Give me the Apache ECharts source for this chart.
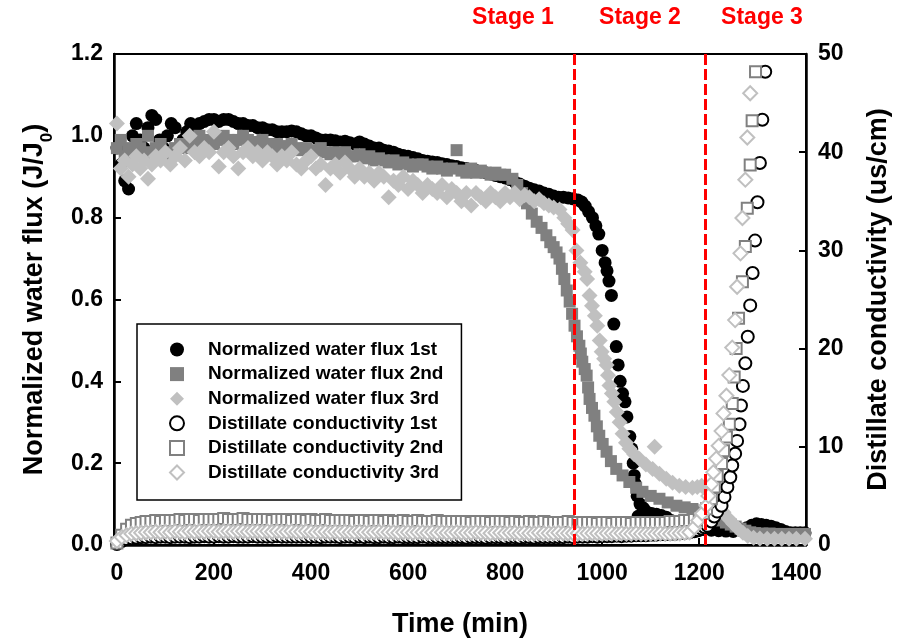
<!DOCTYPE html>
<html>
<head>
<meta charset="utf-8">
<script src="https://cdn.jsdelivr.net/npm/echarts@6/dist/echarts.min.js"></script>
<style>
html,body{margin:0;padding:0;background:#fff;}
#chart{width:901px;height:643px;}
</style>
</head>
<body>
<div id="chart"></div>
<script>
// ---------------- DATA ----------------
const seriesNames = [
  'Normalized water flux 1st','Normalized water flux 2nd','Normalized water flux 3rd',
  'Distillate conductivity 1st','Distillate conductivity 2nd','Distillate conductivity 3rd'
];
const xTicks = [0,200,400,600,800,1000,1200,1400];
const stageLines = [943, 1213];
const stageLabels = ['Stage 1','Stage 2','Stage 3'];

// Normalized water flux [time (min), J/J0]
const flux1 = [[0,0.97],[8,0.93],[16,0.89],[24,0.87],[32,1.0],[40,1.03],[48,0.99],[56,0.97],[64,1.02],[72,1.05],[80,1.04],[88,0.99],[96,0.97],[104,1.0],[112,1.03],[120,1.02],[128,0.97],[136,0.99],[144,1.01],[152,1.03],[160,1.02],[170,1.03],[180,1.035],[190,1.04],[200,1.04],[210,1.035],[220,1.04],[230,1.04],[240,1.035],[250,1.03],[260,1.03],[270,1.025],[280,1.025],[290,1.02],[300,1.02],[310,1.015],[320,1.015],[330,1.01],[340,1.01],[350,1.01],[360,1.012],[370,1.01],[380,1.005],[390,1.0],[400,1.0],[410,0.995],[420,0.99],[430,0.99],[440,0.99],[450,0.988],[460,0.985],[470,0.987],[480,0.983],[490,0.98],[500,0.985],[510,0.98],[520,0.975],[530,0.97],[540,0.97],[550,0.965],[560,0.963],[570,0.96],[580,0.955],[590,0.952],[600,0.95],[610,0.947],[620,0.944],[630,0.94],[640,0.938],[650,0.936],[660,0.935],[670,0.932],[680,0.93],[690,0.927],[700,0.925],[710,0.922],[720,0.92],[730,0.917],[740,0.915],[750,0.912],[760,0.91],[770,0.907],[780,0.903],[790,0.9],[800,0.897],[810,0.893],[820,0.887],[830,0.882],[840,0.877],[850,0.872],[860,0.868],[870,0.865],[880,0.86],[890,0.857],[900,0.853],[910,0.85],[920,0.85],[930,0.848],[940,0.846],[950,0.843],[958,0.838],[965,0.828],[972,0.815],[980,0.8],[987,0.78],[993,0.76],[1000,0.72],[1006,0.69],[1010,0.67],[1014,0.645],[1019,0.61],[1024,0.54],[1029,0.485],[1033,0.44],[1037,0.40],[1042,0.37],[1047,0.35],[1051,0.313],[1057,0.265],[1061,0.235],[1064,0.2],[1066,0.17],[1068,0.15],[1072,0.12],[1074,0.07],[1078,0.1],[1085,0.09],[1093,0.08],[1102,0.077],[1112,0.075],[1122,0.072],[1132,0.068],[1142,0.06],[1152,0.052],[1165,0.046],[1180,0.042],[1195,0.04],[1210,0.038],[1225,0.036],[1240,0.035],[1255,0.034],[1270,0.033],[1285,0.036],[1298,0.042],[1308,0.048],[1318,0.052],[1328,0.05],[1338,0.048],[1348,0.046],[1358,0.042],[1368,0.038],[1378,0.033],[1388,0.03],[1398,0.03],[1408,0.03],[1418,0.03]];

const flux2 = [[0,0.97],[8,0.99],[16,0.95],[24,0.97],[32,0.96],[40,0.98],[48,0.97],[56,0.95],[64,1.0],[72,0.96],[80,0.97],[90,0.98],[100,0.96],[110,0.95],[120,0.97],[130,0.98],[140,0.97],[150,0.99],[160,0.98],[170,1.0],[180,0.98],[190,0.99],[200,0.98],[210,0.99],[220,1.0],[230,0.99],[240,0.98],[250,0.99],[260,1.0],[270,0.99],[280,0.98],[290,0.985],[300,0.99],[310,0.98],[320,0.975],[330,0.98],[340,0.97],[350,0.975],[360,0.98],[370,0.97],[380,0.965],[390,0.97],[400,0.96],[410,0.965],[420,0.97],[430,0.96],[440,0.955],[450,0.96],[460,0.955],[470,0.96],[480,0.95],[490,0.95],[500,0.955],[510,0.945],[520,0.95],[530,0.94],[540,0.945],[550,0.94],[560,0.935],[570,0.94],[580,0.93],[590,0.935],[600,0.93],[610,0.925],[620,0.93],[630,0.93],[640,0.925],[650,0.92],[660,0.925],[670,0.92],[680,0.915],[690,0.92],[700,0.965],[710,0.915],[720,0.91],[730,0.92],[740,0.91],[750,0.915],[760,0.91],[770,0.905],[780,0.91],[790,0.905],[800,0.905],[815,0.895],[825,0.88],[835,0.86],[845,0.835],[855,0.81],[865,0.79],[875,0.775],[885,0.757],[893,0.74],[900,0.728],[906,0.715],[912,0.7],[917,0.675],[922,0.65],[927,0.622],[933,0.595],[938,0.565],[943,0.536],[948,0.51],[953,0.487],[956,0.468],[959,0.448],[964,0.43],[968,0.414],[971,0.385],[974,0.357],[979,0.335],[984,0.316],[989,0.29],[994,0.267],[1001,0.247],[1009,0.228],[1018,0.205],[1029,0.186],[1042,0.17],[1056,0.154],[1070,0.14],[1083,0.13],[1100,0.12],[1118,0.113],[1135,0.104],[1153,0.096],[1170,0.092],[1186,0.088],[1198,0.084],[1208,0.08],[1217,0.075],[1226,0.07],[1235,0.065],[1245,0.06],[1255,0.055],[1265,0.05],[1275,0.045],[1285,0.04],[1295,0.035],[1305,0.031],[1315,0.029],[1330,0.028],[1345,0.028],[1360,0.027],[1375,0.027],[1390,0.027],[1405,0.027],[1418,0.027]];

const flux3 = [[0,1.03],[8,0.92],[16,0.94],[24,0.90],[32,0.93],[40,0.95],[48,0.92],[56,0.94],[64,0.895],[72,0.93],[80,0.95],[90,0.94],[100,0.96],[110,0.93],[120,0.95],[130,0.97],[140,0.94],[150,1.0],[160,0.96],[170,0.95],[180,0.97],[190,0.96],[200,1.01],[210,0.925],[220,0.96],[230,0.97],[240,0.95],[250,0.92],[260,0.96],[270,0.97],[280,0.95],[290,0.96],[300,0.94],[310,0.96],[320,0.95],[330,0.93],[340,0.95],[350,0.94],[360,0.96],[370,0.93],[380,0.92],[390,0.94],[400,0.95],[410,0.92],[420,0.93],[430,0.88],[440,0.92],[450,0.93],[460,0.91],[470,0.935],[480,0.92],[490,0.9],[500,0.92],[510,0.9],[520,0.91],[530,0.89],[540,0.91],[550,0.9],[560,0.85],[570,0.89],[580,0.88],[590,0.9],[600,0.87],[610,0.89],[620,0.88],[630,0.86],[640,0.88],[650,0.87],[660,0.86],[670,0.88],[680,0.85],[690,0.87],[700,0.86],[710,0.84],[720,0.86],[730,0.83],[740,0.86],[750,0.85],[760,0.84],[770,0.86],[780,0.85],[790,0.84],[800,0.86],[810,0.85],[820,0.86],[830,0.845],[840,0.855],[850,0.85],[860,0.84],[870,0.845],[880,0.835],[890,0.83],[900,0.825],[912,0.82],[922,0.8],[930,0.785],[939,0.77],[947,0.72],[955,0.69],[964,0.668],[969,0.65],[974,0.61],[979,0.585],[985,0.56],[990,0.536],[995,0.5],[999,0.472],[1004,0.455],[1009,0.44],[1012,0.415],[1015,0.39],[1020,0.37],[1025,0.35],[1030,0.325],[1036,0.30],[1042,0.272],[1049,0.25],[1056,0.235],[1066,0.222],[1077,0.21],[1090,0.197],[1104,0.186],[1108,0.24],[1118,0.174],[1132,0.162],[1145,0.152],[1159,0.145],[1172,0.142],[1186,0.14],[1196,0.142],[1205,0.145],[1213,0.138],[1222,0.125],[1231,0.11],[1240,0.095],[1250,0.08],[1260,0.065],[1270,0.052],[1280,0.04],[1290,0.03],[1300,0.022],[1312,0.018],[1325,0.016],[1340,0.015],[1355,0.015],[1370,0.015],[1385,0.015],[1400,0.015],[1418,0.015]];

// Distillate conductivity: baseline sampled every 10 min, then rising part
const condBaseTime = [0,10,20,30,40,50,60,70,80,90,100,110,120,130,140,150,160,170,180,190,200,210,220,230,240,250,260,270,280,290,300,310,320,330,340,350,360,370,380,390,400,410,420,430,440,450,460,470,480,490,500,510,520,530,540,550,560,570,580,590,600,610,620,630,640,650,660,670,680,690,700,710,720,730,740,750,760,770,780,790,800,810,820,830,840,850,860,870,880,890,900,910,920,930,940,950,960,970,980,990,1000,1010,1020,1030,1040,1050,1060,1070,1080,1090,1100,1110,1120,1130,1140,1150,1160,1170];

const cond1Base = [0.1,0.4,0.6,0.7,0.75,0.8,0.8,0.85,0.8,0.85,0.85,0.8,0.85,0.85,0.85,0.8,0.85,0.85,0.9,0.85,0.85,0.9,0.85,0.85,0.9,0.85,0.85,0.85,0.9,0.85,0.85,0.85,0.85,0.9,0.85,0.85,0.85,0.85,0.85,0.85,0.85,0.85,0.8,0.85,0.85,0.85,0.8,0.85,0.85,0.8,0.85,0.8,0.85,0.8,0.8,0.85,0.8,0.8,0.85,0.8,0.8,0.8,0.8,0.85,0.8,0.8,0.8,0.8,0.8,0.8,0.8,0.8,0.75,0.8,0.8,0.8,0.75,0.8,0.8,0.8,0.75,0.8,0.8,0.75,0.8,0.8,0.75,0.8,0.8,0.8,0.8,0.8,0.8,0.85,0.8,0.85,0.85,0.85,0.9,0.85,0.9,0.9,0.9,0.95,0.9,0.95,0.95,1.0,1.0,1.0,1.05,1.05,1.1,1.1,1.15,1.15,1.2,1.25];
const cond1Rise = [[1180,1.3],[1190,1.4],[1198,1.5],[1205,1.65],[1211,1.8],[1217,1.95],[1225,2.4],[1231,2.9],[1237,3.4],[1246,4.0],[1252,4.9],[1258,5.9],[1264,6.9],[1268,8.1],[1274,9.3],[1278,10.6],[1283,12.3],[1286,14.2],[1290,16.2],[1295,18.5],[1300,21.2],[1305,24.4],[1310,27.7],[1315,31.0],[1320,34.9],[1325,38.9],[1330,43.3],[1336,48.2]];

const cond2Base = [0.2,1.0,1.6,2.0,2.2,2.3,2.4,2.4,2.5,2.4,2.5,2.5,2.5,2.6,2.5,2.6,2.6,2.5,2.6,2.6,2.6,2.6,2.7,2.6,2.6,2.6,2.7,2.6,2.6,2.6,2.6,2.6,2.5,2.6,2.6,2.6,2.5,2.6,2.6,2.5,2.6,2.5,2.5,2.6,2.5,2.5,2.5,2.5,2.5,2.4,2.5,2.5,2.4,2.5,2.5,2.4,2.5,2.4,2.4,2.5,2.4,2.4,2.5,2.4,2.4,2.4,2.5,2.4,2.4,2.4,2.4,2.4,2.4,2.3,2.4,2.4,2.4,2.3,2.4,2.4,2.4,2.3,2.4,2.3,2.3,2.4,2.3,2.3,2.4,2.3,2.3,2.3,2.3,2.4,2.3,2.3,2.3,2.3,2.3,2.2,2.3,2.3,2.2,2.3,2.3,2.3,2.2,2.3,2.3,2.3,2.3,2.3,2.3,2.3,2.4,2.4,2.4,2.5];
const cond2Rise = [[1180,2.5],[1190,2.6],[1200,2.9],[1208,3.2],[1215,3.7],[1225,4.7],[1231,5.9],[1237,7.0],[1246,8.3],[1250,9.6],[1256,11.0],[1262,12.3],[1268,14.4],[1272,17.1],[1276,20.0],[1281,23.1],[1289,26.8],[1295,30.4],[1299,34.3],[1305,38.7],[1309,43.2],[1316,48.2]];

const cond3Base = [0.4,0.8,1.0,1.15,1.2,1.25,1.3,1.3,1.35,1.3,1.35,1.3,1.4,1.35,1.3,1.4,1.35,1.4,1.35,1.4,1.4,1.35,1.4,1.4,1.35,1.4,1.4,1.35,1.4,1.4,1.35,1.4,1.35,1.4,1.35,1.35,1.4,1.35,1.35,1.4,1.35,1.3,1.35,1.35,1.3,1.35,1.3,1.35,1.3,1.3,1.35,1.3,1.3,1.3,1.35,1.3,1.3,1.3,1.25,1.3,1.3,1.25,1.3,1.3,1.25,1.3,1.25,1.3,1.25,1.25,1.3,1.25,1.25,1.25,1.3,1.25,1.25,1.2,1.25,1.25,1.2,1.25,1.25,1.2,1.25,1.2,1.2,1.25,1.2,1.2,1.2,1.25,1.2,1.2,1.2,1.2,1.15,1.2,1.2,1.2,1.15,1.2,1.2,1.15,1.2,1.15,1.15,1.2,1.15,1.15,1.15,1.15,1.2,1.15,1.15,1.2,1.2,1.25];
const cond3Rise = [[1180,1.3],[1190,1.8],[1198,2.5],[1206,3.2],[1215,4.0],[1219,5.0],[1225,6.2],[1229,7.4],[1235,8.8],[1240,10.1],[1246,11.6],[1250,13.4],[1256,15.2],[1262,17.3],[1268,20.1],[1274,22.9],[1278,26.3],[1285,29.7],[1289,33.3],[1295,37.2],[1299,41.5],[1305,46.0]];

// ---------------- CHART ----------------
function joinCond(base, rise){
  return base.map((v,i)=>[condBaseTime[i], v]).concat(rise);
}
const FONT = '"Liberation Sans", Arial, sans-serif';
const chart = echarts.init(document.getElementById('chart'), null, {renderer:'canvas'});

const axisCommon = {
  axisLine:{show:true, onZero:false, lineStyle:{color:'#000', width:2.5}},
  axisTick:{show:true, inside:true, length:7, lineStyle:{color:'#000', width:2}},
  splitLine:{show:false},
  axisLabel:{color:'#000', fontSize:23, fontWeight:'bold', fontFamily:FONT},
  nameTextStyle:{color:'#000', fontSize:27, fontWeight:'bold', fontFamily:FONT}
};

const option = {
  animation:false,
  backgroundColor:'#fff',
  textStyle:{fontFamily:FONT},
  grid:{left:114, right:95, top:54, bottom:97, show:true, borderColor:'#000', borderWidth:2, containLabel:false},
  xAxis:{
    type:'value', min:-6, max:1420,
    axisLine:axisCommon.axisLine,
    axisTick:Object.assign({}, axisCommon.axisTick, {customValues:xTicks}),
    axisLabel:Object.assign({}, axisCommon.axisLabel, {customValues:xTicks, margin:17, formatter:v=>String(v)}),
    splitLine:{show:false},
    name:'Time (min)', nameLocation:'middle', nameGap:66,
    nameTextStyle:axisCommon.nameTextStyle
  },
  yAxis:[
    {
      type:'value', min:0, max:1.2, interval:0.2, position:'left',
      axisLine:axisCommon.axisLine, axisTick:axisCommon.axisTick, splitLine:{show:false},
      axisLabel:Object.assign({}, axisCommon.axisLabel, {margin:11, formatter:v=>v.toFixed(1)}),
      name:'Normalized water flux (J/J{sub|0})', nameLocation:'middle', nameGap:66, nameRotate:90,
      nameTextStyle:Object.assign({}, axisCommon.nameTextStyle, {
        rich:{sub:{fontSize:17, fontWeight:'bold', fontFamily:FONT, color:'#000', verticalAlign:'bottom', padding:[0,0,-8,0]}}
      })
    },
    {
      type:'value', min:0, max:50, interval:10, position:'right',
      axisLine:axisCommon.axisLine, axisTick:axisCommon.axisTick, splitLine:{show:false},
      axisLabel:Object.assign({}, axisCommon.axisLabel, {margin:12}),
      name:'Distillate conductivity (us/cm)', nameLocation:'middle', nameGap:59, nameRotate:90,
      nameTextStyle:axisCommon.nameTextStyle
    }
  ],
  legend:{
    orient:'vertical', left:137, top:324,
    padding:[16,18,18,32], itemGap:5.6, itemWidth:14, itemHeight:14,
    backgroundColor:'#fff', borderColor:'#000', borderWidth:1.5, borderRadius:0,
    textStyle:{fontSize:19, fontWeight:'bold', color:'#000', fontFamily:FONT, padding:[0,0,0,19]},
    data:seriesNames
  },
  graphic:[
    {type:'text', x:513, y:18, style:{text:stageLabels[0], fill:'#ff0000', font:'bold 23px '+FONT, align:'center', verticalAlign:'middle'}},
    {type:'text', x:640, y:18, style:{text:stageLabels[1], fill:'#ff0000', font:'bold 23px '+FONT, align:'center', verticalAlign:'middle'}},
    {type:'text', x:762, y:18, style:{text:stageLabels[2], fill:'#ff0000', font:'bold 23px '+FONT, align:'center', verticalAlign:'middle'}}
  ],
  series:[
    {name:seriesNames[0], type:'scatter', yAxisIndex:0, symbol:'circle', symbolSize:13, symbolKeepAspect:true,
     itemStyle:{color:'#000', opacity:1}, data:flux1,
     markLine:{silent:true, symbol:['none','none'], animation:false, label:{show:false},
       lineStyle:{color:'#ff0000', width:3, type:[11,4]},
       data:stageLines.map(v=>({xAxis:v}))}},
    {name:seriesNames[1], type:'scatter', yAxisIndex:0, symbol:'rect', symbolSize:12, symbolKeepAspect:true,
     itemStyle:{color:'#808080', opacity:1}, data:flux2},
    {name:seriesNames[2], type:'scatter', yAxisIndex:0, symbol:'diamond', symbolSize:16, symbolKeepAspect:true,
     itemStyle:{color:'#c0c0c0', opacity:1}, data:flux3},
    {name:seriesNames[3], type:'scatter', yAxisIndex:1, symbol:'emptyCircle', symbolSize:12, symbolKeepAspect:true,
     itemStyle:{color:'#000', borderColor:'#000', borderWidth:1.6, opacity:1}, data:joinCond(cond1Base, cond1Rise)},
    {name:seriesNames[4], type:'scatter', yAxisIndex:1, symbol:'emptyRect', symbolSize:11, symbolKeepAspect:true,
     itemStyle:{color:'#808080', borderColor:'#808080', borderWidth:1.6, opacity:1}, data:joinCond(cond2Base, cond2Rise)},
    {name:seriesNames[5], type:'scatter', yAxisIndex:1, symbol:'emptyDiamond', symbolSize:14, symbolKeepAspect:true,
     itemStyle:{color:'#c0c0c0', borderColor:'#c0c0c0', borderWidth:3, opacity:1}, data:joinCond(cond3Base, cond3Rise)}
  ]
};
chart.setOption(option);
</script>
</body>
</html>
